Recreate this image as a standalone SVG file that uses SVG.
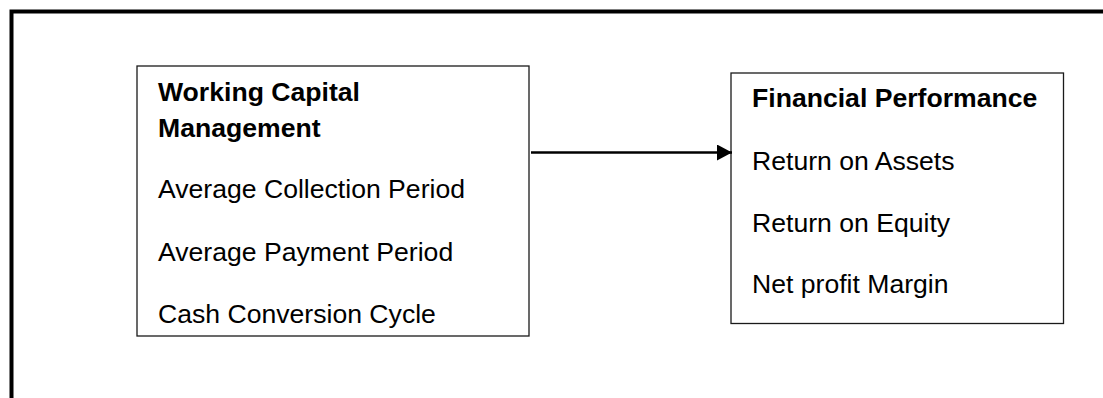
<svg xmlns="http://www.w3.org/2000/svg" width="1103" height="398" viewBox="0 0 1103 398">
<style>
.box{fill:#fff;stroke:#1a1a1a;stroke-width:1.3}
.t{font-family:"Liberation Sans",Arial,sans-serif;font-size:26.6px;fill:#000}
.b{font-weight:bold}
.frame{stroke:#000;stroke-width:4;fill:none}
</style>
<defs>
<marker id="ah" markerUnits="userSpaceOnUse" markerWidth="15" markerHeight="16" refX="15" refY="8" orient="auto">
<path d="M0,0 L15,8 L0,16 Z" fill="#000"/>
</marker>
</defs>
<rect width="1103" height="398" fill="#fff"/>
<g id="frame">
<path class="frame" d="M11.5,398 V11.5 H1103"/>
</g>
<g id="node-wcm">
<rect class="box" x="137" y="66" width="392" height="270"/>
<text class="t b" x="158" y="101">Working Capital</text>
<text class="t b" x="158" y="137">Management</text>
<text class="t" x="158" y="198">Average Collection Period</text>
<text class="t" x="158" y="261">Average Payment Period</text>
<text class="t" x="158" y="323">Cash Conversion Cycle</text>
</g>
<g id="node-fp">
<rect class="box" x="731" y="73" width="332.5" height="250.5"/>
<text class="t b" x="752" y="107">Financial Performance</text>
<text class="t" x="752" y="170">Return on Assets</text>
<text class="t" x="752" y="232">Return on Equity</text>
<text class="t" x="752" y="293">Net profit Margin</text>
</g>
<g id="connectors">
<line x1="531" y1="152.5" x2="732" y2="152.5" stroke="#000" stroke-width="2.6" marker-end="url(#ah)"/>
</g>
</svg>
